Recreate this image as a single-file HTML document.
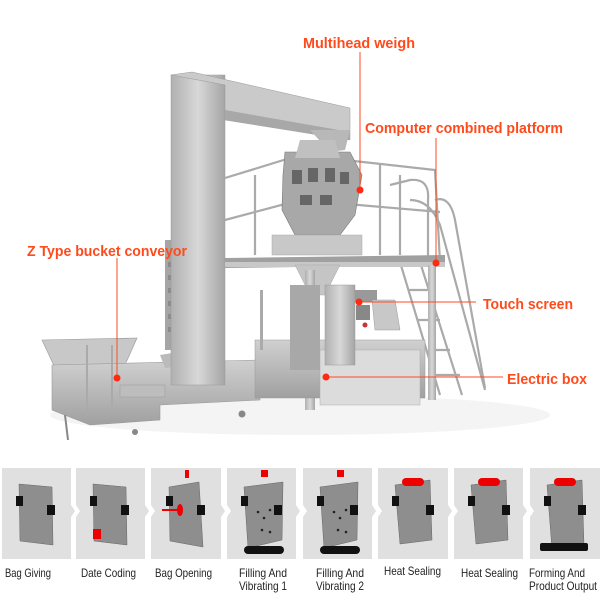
<!DOCTYPE html>
<html><head><meta charset="utf-8"><style>
html,body{margin:0;padding:0;background:#fff;}
svg{display:block;}
.lb{font-family:"Liberation Sans Narrow","Liberation Sans",sans-serif;font-weight:bold;font-size:15px;fill:#ff4a1c;}
.cap{font-family:"Liberation Sans Narrow","Liberation Sans",sans-serif;font-size:12px;fill:#222;}
</style></head><body>
<svg width="600" height="600" viewBox="0 0 600 600" xmlns="http://www.w3.org/2000/svg">
<defs>
<linearGradient id="st" x1="0" x2="1"><stop offset="0" stop-color="#b0b0b0"/><stop offset="0.5" stop-color="#d8d8d8"/><stop offset="1" stop-color="#a5a5a5"/></linearGradient>
<linearGradient id="st2" x1="0" y1="0" x2="0" y2="1"><stop offset="0" stop-color="#d0d0d0"/><stop offset="1" stop-color="#a0a0a0"/></linearGradient>
</defs>
<ellipse cx="300" cy="415" rx="250" ry="20" fill="#f4f4f4"/>
<!-- left conveyor -->
<polygon points="42,340 137,338 125,365 55,368" fill="#c8c8c8" stroke="#999" stroke-width="0.6"/>
<polygon points="52,365 260,360 260,400 160,405 160,420 90,425 52,410" fill="url(#st2)" stroke="#999" stroke-width="0.6"/>
<rect x="120" y="385" width="45" height="12" fill="#bdbdbd" stroke="#999" stroke-width="0.5"/>
<line x1="87" y1="345" x2="87" y2="415" stroke="#aaa" stroke-width="2"/>
<line x1="112" y1="345" x2="112" y2="415" stroke="#aaa" stroke-width="2"/>
<polygon points="160,355 190,350 192,365 165,368" fill="#bbb"/>
<line x1="65" y1="415" x2="68" y2="440" stroke="#888" stroke-width="2"/>
<circle cx="135" cy="432" r="3" fill="#888"/><circle cx="242" cy="414" r="3.5" fill="#888"/>
<!-- bucket column -->
<rect x="165" y="240" width="12" height="110" fill="#a5a5a5"/>
<g fill="#8a8a8a"><rect x="168" y="262" width="10" height="5"/><rect x="168" y="275" width="10" height="5"/><rect x="168" y="288" width="10" height="5"/><rect x="168" y="301" width="10" height="5"/><rect x="168" y="314" width="10" height="5"/><rect x="168" y="327" width="10" height="5"/></g>
<rect x="171" y="75" width="54" height="310" fill="url(#st)" stroke="#999" stroke-width="0.5"/>
<polygon points="171,75 192,72 350,108 350,140 225,120 225,85" fill="#cacaca" stroke="#999" stroke-width="0.5"/>
<polygon points="225,110 350,132 350,140 225,120" fill="#a8a8a8"/>
<polygon points="310,130 350,130 345,150 330,152" fill="#b8b8b8"/>
<!-- railings -->
<g stroke="#aaa" stroke-width="2.2" fill="none">
<path d="M225,178 L300,155 L435,170 L440,262"/>
<path d="M225,220 L300,200 L440,212"/>
<path d="M255,175 L255,255 M380,165 L380,255 M305,160 L305,250 M400,175 L400,255"/>
<path d="M390,185 L410,180 Q430,178 428,200 L428,262"/>
<path d="M410,200 Q430,200 440,225 L485,390 M435,200 Q450,195 455,220 L485,388"/>
<path d="M400,262 L440,395 M420,262 L462,395"/>
<path d="M408,290 L428,290 M418,320 L440,320 M428,350 L450,350 M436,375 L460,375"/>
</g>
<!-- weigher -->
<polygon points="285,152 350,152 362,175 355,215 340,235 295,235 282,210 283,175" fill="#a8a8a8" stroke="#777" stroke-width="0.6"/>
<polygon points="300,140 335,140 340,158 295,158" fill="#c0c0c0"/>
<g fill="#666"><rect x="292" y="170" width="10" height="14"/><rect x="308" y="168" width="10" height="14"/><rect x="325" y="168" width="10" height="14"/><rect x="340" y="172" width="9" height="12"/><rect x="300" y="195" width="12" height="10"/><rect x="320" y="195" width="12" height="10"/></g>
<rect x="272" y="235" width="90" height="20" fill="#c8c8c8" stroke="#aaa" stroke-width="0.5"/>
<!-- platform -->
<polygon points="225,258 445,255 445,265 225,268" fill="#a0a0a0"/>
<rect x="225" y="262" width="220" height="5" fill="#c8c8c8"/>
<polygon points="295,265 340,265 325,295 310,295" fill="#c5c5c5" stroke="#aaa" stroke-width="0.5"/>
<rect x="305" y="270" width="10" height="140" fill="url(#st)"/>
<rect x="428" y="265" width="8" height="135" fill="url(#st)"/>
<!-- packing machine -->
<rect x="255" y="340" width="170" height="58" fill="url(#st2)" stroke="#999" stroke-width="0.5"/>
<rect x="320" y="350" width="100" height="55" fill="#dcdcdc" stroke="#aaa" stroke-width="0.5"/>
<rect x="290" y="285" width="30" height="85" fill="#a8a8a8"/>
<rect x="325" y="285" width="30" height="80" fill="url(#st)" stroke="#999" stroke-width="0.5"/>
<rect x="355" y="290" width="22" height="12" fill="#999"/>
<rect x="356" y="305" width="14" height="15" fill="#888"/><circle cx="365" cy="325" r="2.5" fill="#c33"/>
<polygon points="372,300 395,300 400,330 375,330" fill="#c8c8c8" stroke="#999" stroke-width="0.5"/>
<rect x="260" y="290" width="3" height="60" fill="#aaa"/>
<!-- label lines -->
<g stroke="#ff4a1c" stroke-width="1"><line x1="360" y1="52" x2="360" y2="190"/><line x1="436" y1="138" x2="436" y2="263"/><line x1="359" y1="302" x2="476" y2="302"/><line x1="326" y1="377" x2="503" y2="377"/><line x1="117" y1="258" x2="117" y2="378"/></g>
<g fill="#ff2a10"><circle cx="360" cy="190" r="3.5"/><circle cx="436" cy="263" r="3.5"/><circle cx="359" cy="302" r="3.5"/><circle cx="326" cy="377" r="3.5"/><circle cx="117" cy="378" r="3.5"/></g>
<text class="lb" x="303" y="48" textLength="112" lengthAdjust="spacingAndGlyphs">Multihead weigh</text>
<text class="lb" x="365" y="133" textLength="198" lengthAdjust="spacingAndGlyphs">Computer combined platform</text>
<text class="lb" x="483" y="309" textLength="90" lengthAdjust="spacingAndGlyphs">Touch screen</text>
<text class="lb" x="507" y="384" textLength="80" lengthAdjust="spacingAndGlyphs">Electric box</text>
<text class="lb" x="27" y="256" textLength="160" lengthAdjust="spacingAndGlyphs">Z Type bucket conveyor</text>
<!-- process strip -->
<g fill="#e0e0e0">
<polygon points="2,468 71,468 71,505 75,511 71,517 71,559 2,559"/>
<polygon points="76,468 145,468 145,505 149,511 145,517 145,559 76,559 76,517 80,511 76,505"/>
<polygon points="151,468 221,468 221,505 225,511 221,517 221,559 151,559 151,517 155,511 151,505"/>
<polygon points="227,468 296,468 296,505 300,511 296,517 296,559 227,559 227,517 231,511 227,505"/>
<polygon points="303,468 372,468 372,505 376,511 372,517 372,559 303,559 303,517 307,511 303,505"/>
<polygon points="378,468 448,468 448,505 452,511 448,517 448,559 378,559 378,517 382,511 378,505"/>
<polygon points="454,468 523,468 523,505 527,511 523,517 523,559 454,559 454,517 458,511 454,505"/>
<polygon points="530,468 600,468 600,559 530,559 530,517 534,511 530,505"/>
</g>
<g fill="#8e8e8e" stroke="#666" stroke-width="0.5">
<polygon points="19,484 52,487 53,545 20,541"/>
<polygon points="93,484 126,487 127,545 94,541"/>
<polygon points="169,487 199,482 203,547 170,541"/>
<polygon points="244,487 283,482 282,540 248,548"/>
<polygon points="320,487 358,482 357,540 324,548"/>
<polygon points="395,485 430,480 432,540 400,544"/>
<polygon points="471,485 506,480 508,540 476,544"/>
<polygon points="547,485 582,480 584,545 552,549"/>
</g>
<g fill="#111">
<rect x="16" y="496" width="7" height="10"/><rect x="47" y="505" width="8" height="10"/>
<rect x="90" y="496" width="7" height="10"/><rect x="121" y="505" width="8" height="10"/>
<rect x="166" y="496" width="7" height="10"/><rect x="197" y="505" width="8" height="10"/>
<rect x="241" y="496" width="7" height="10"/><rect x="274" y="505" width="8" height="10"/>
<rect x="317" y="496" width="7" height="10"/><rect x="350" y="505" width="8" height="10"/>
<rect x="392" y="496" width="7" height="10"/><rect x="426" y="505" width="8" height="10"/>
<rect x="468" y="496" width="7" height="10"/><rect x="502" y="505" width="8" height="10"/>
<rect x="544" y="496" width="7" height="10"/><rect x="578" y="505" width="8" height="10"/>
<rect x="244" y="546" width="40" height="8" rx="4"/><rect x="320" y="546" width="40" height="8" rx="4"/>
<rect x="540" y="543" width="48" height="8" rx="2"/>
<g fill="#222"><circle cx="258" cy="512" r="1.3"/><circle cx="264" cy="518" r="1.3"/><circle cx="270" cy="510" r="1.3"/><circle cx="262" cy="530" r="1.3"/><circle cx="270" cy="532" r="1.3"/><circle cx="334" cy="512" r="1.3"/><circle cx="340" cy="518" r="1.3"/><circle cx="346" cy="510" r="1.3"/><circle cx="338" cy="530" r="1.3"/><circle cx="346" cy="532" r="1.3"/></g>
</g>
<g fill="#e00">
<rect x="93" y="529" width="8" height="10"/>
<ellipse cx="180" cy="510" rx="3" ry="6"/><rect x="162" y="509" width="16" height="2"/>
<rect x="185" y="470" width="4" height="8"/>
<rect x="261" y="470" width="7" height="7"/><rect x="337" y="470" width="7" height="7"/>
<rect x="402" y="478" width="22" height="8" rx="4"/><rect x="478" y="478" width="22" height="8" rx="4"/><rect x="554" y="478" width="22" height="8" rx="4"/>
</g>
<text class="cap" x="5" y="577" textLength="46" lengthAdjust="spacingAndGlyphs">Bag Giving</text>
<text class="cap" x="81" y="577" textLength="55" lengthAdjust="spacingAndGlyphs">Date Coding</text>
<text class="cap" x="155" y="577" textLength="57" lengthAdjust="spacingAndGlyphs">Bag Opening</text>
<text class="cap" x="239" y="577" textLength="48" lengthAdjust="spacingAndGlyphs">Filling And</text><text class="cap" x="239" y="590" textLength="48" lengthAdjust="spacingAndGlyphs">Vibrating 1</text>
<text class="cap" x="316" y="577" textLength="48" lengthAdjust="spacingAndGlyphs">Filling And</text><text class="cap" x="316" y="590" textLength="48" lengthAdjust="spacingAndGlyphs">Vibrating 2</text>
<text class="cap" x="384" y="575" textLength="57" lengthAdjust="spacingAndGlyphs">Heat Sealing</text>
<text class="cap" x="461" y="577" textLength="57" lengthAdjust="spacingAndGlyphs">Heat Sealing</text>
<text class="cap" x="529" y="577" textLength="56" lengthAdjust="spacingAndGlyphs">Forming And</text><text class="cap" x="529" y="590" textLength="68" lengthAdjust="spacingAndGlyphs">Product Output</text>
</svg>
</body></html>
